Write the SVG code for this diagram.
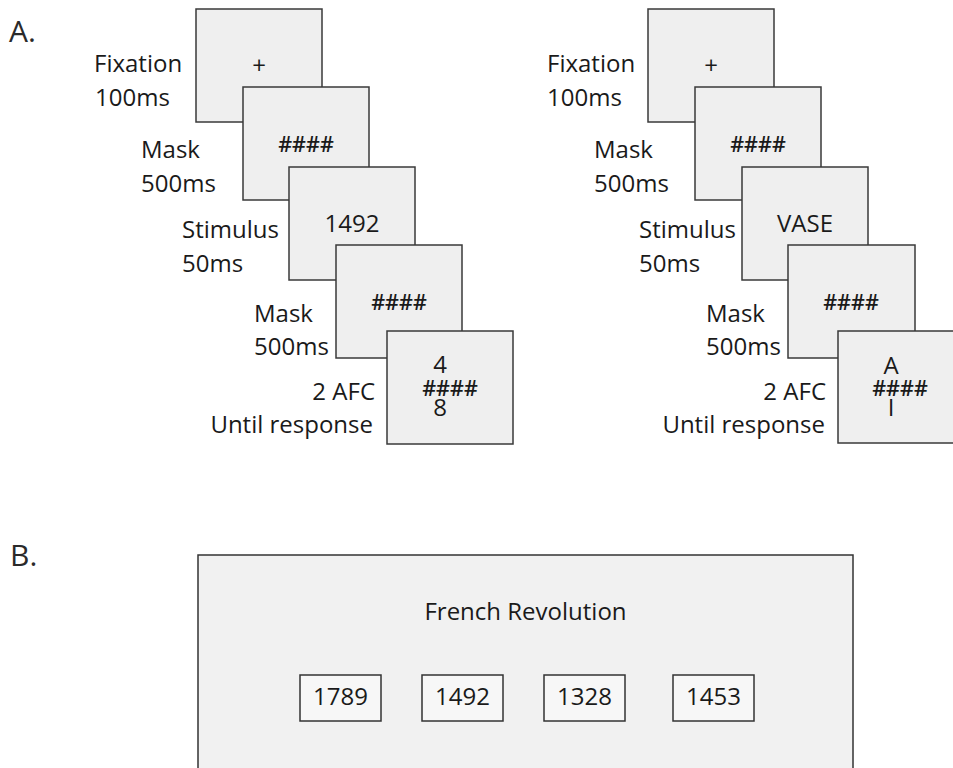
<svg xmlns="http://www.w3.org/2000/svg" width="953" height="768" viewBox="0 0 953 768">
<style>
text{font-family:"Open Sans","Noto Sans","Liberation Sans",sans-serif;fill:#1a1a1a}
.lbl{font-size:24px}
.in{font-size:24px;text-anchor:middle}
.hash{font-size:21.5px;text-anchor:middle;font-weight:600}
.pan{font-size:30px;fill:#2a2a2a}
.scr{fill:#efefef;stroke:#3a3a3a;stroke-width:1.5}
.opt{fill:#f7f7f7;stroke:#333;stroke-width:1.5}
</style>
<rect width="953" height="768" fill="#ffffff"/>
<text class="pan" x="9" y="42">A.</text>
<text class="pan" x="10" y="566">B.</text>

<g id="left-trial">
  <g id="L-fix"><rect class="scr" x="196" y="9" width="126" height="113"/><text class="in" x="259" y="74">+</text></g>
  <g id="L-mask1"><rect class="scr" x="243" y="87" width="126" height="113"/><text class="hash" x="306" y="152">####</text></g>
  <g id="L-stim"><rect class="scr" x="289" y="167" width="126" height="113"/><text class="in" x="352" y="232">1492</text></g>
  <g id="L-mask2"><rect class="scr" x="336" y="245" width="126" height="113"/><text class="hash" x="399" y="310">####</text></g>
  <g id="L-afc"><rect class="scr" x="387" y="331" width="126" height="113"/>
    <text class="in" x="440" y="373">4</text><text class="hash" x="450" y="396">####</text><text class="in" x="440" y="416">8</text></g>
  <g id="L-labels">
    <text class="lbl" x="94" y="72">Fixation</text><text class="lbl" x="95" y="106">100ms</text>
    <text class="lbl" x="141" y="158">Mask</text><text class="lbl" x="141" y="192">500ms</text>
    <text class="lbl" x="182" y="238">Stimulus</text><text class="lbl" x="182" y="272">50ms</text>
    <text class="lbl" x="254" y="322">Mask</text><text class="lbl" x="254" y="355">500ms</text>
    <text class="lbl" x="375" y="400" text-anchor="end">2 AFC</text>
    <text class="lbl" x="373" y="433" text-anchor="end">Until response</text>
  </g>
</g>

<g id="right-trial">
  <g id="R-fix"><rect class="scr" x="648" y="9" width="126" height="113"/><text class="in" x="711" y="74">+</text></g>
  <g id="R-mask1"><rect class="scr" x="695" y="87" width="126" height="113"/><text class="hash" x="758" y="152">####</text></g>
  <g id="R-stim"><rect class="scr" x="742" y="167" width="126" height="113"/><text class="in" x="805" y="232">VASE</text></g>
  <g id="R-mask2"><rect class="scr" x="788" y="245" width="127" height="113"/><text class="hash" x="851" y="310">####</text></g>
  <g id="R-afc"><rect class="scr" x="838" y="331" width="126" height="112"/>
    <text class="in" x="891" y="374">A</text><text class="hash" x="900" y="396">####</text><text class="in" x="891" y="416">I</text></g>
  <g id="R-labels">
    <text class="lbl" x="547" y="72">Fixation</text><text class="lbl" x="547" y="106">100ms</text>
    <text class="lbl" x="594" y="158">Mask</text><text class="lbl" x="594" y="192">500ms</text>
    <text class="lbl" x="639" y="238">Stimulus</text><text class="lbl" x="639" y="272">50ms</text>
    <text class="lbl" x="706" y="322">Mask</text><text class="lbl" x="706" y="355">500ms</text>
    <text class="lbl" x="826" y="400" text-anchor="end">2 AFC</text>
    <text class="lbl" x="825" y="433" text-anchor="end">Until response</text>
  </g>
</g>

<g id="panel-b">
  <g id="B-screen"><rect x="198" y="555" width="655" height="240" fill="#f1f1f1" stroke="#333" stroke-width="1.5"/>
    <text class="in" x="525.5" y="620">French Revolution</text></g>
  <g id="B-1789"><rect class="opt" x="300" y="675" width="81" height="46"/><text class="in" x="340.5" y="705">1789</text></g>
  <g id="B-1492"><rect class="opt" x="422" y="675" width="81" height="46"/><text class="in" x="462.5" y="705">1492</text></g>
  <g id="B-1328"><rect class="opt" x="544" y="675" width="81" height="46"/><text class="in" x="584.5" y="705">1328</text></g>
  <g id="B-1453"><rect class="opt" x="673" y="675" width="81" height="46"/><text class="in" x="713.5" y="705">1453</text></g>
</g>
<g id="connectors"/>
</svg>
